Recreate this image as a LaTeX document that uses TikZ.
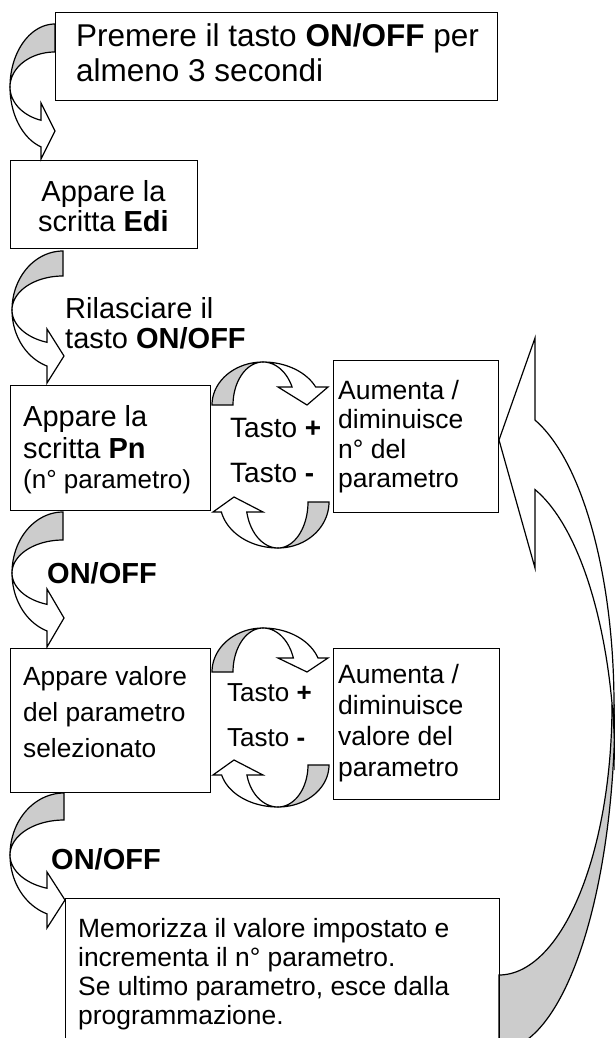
\documentclass[tikz,border=0pt]{standalone}
\usepackage{fontspec}
\setmainfont{Liberation Sans}
\definecolor{shade}{RGB}{204,204,204}
\newcommand\fs[2]{\fontsize{#1}{#2}\selectfont}
% curved arrow on the left side (bends left, points right)
% #1 cx #2 cy #3 rx #4 r outer #5 r inner #6 head back x #7 tip x #8 head centre y #9 head half height
\newcommand\leftbend[9]{%
  \pgfmathsetmacro\lbth{acos((#6-#1)/#3)}%
  \draw[blk,fill=shade] plot[domain=270:180,samples=40] ({#1+#3*cos(\x)},{#2+#4*sin(\x)})
     -- plot[domain=180:270,samples=40] ({#1+#3*cos(\x)},{#2+#5*sin(\x)}) -- cycle;
  \draw[blk,fill=white] plot[domain=180:\lbth,samples=40] ({#1+#3*cos(\x)},{#2+#5*sin(\x)})
     -- (#6,#8-#9) -- (#7,#8) -- (#6,#8+#9)
     -- plot[domain=\lbth:180,samples=40] ({#1+#3*cos(\x)},{#2+#4*sin(\x)}) -- cycle;
}
% curved down arrow in local coordinates; #1 ry, #2 head base y, #3 tip y
\newcommand\roundarrow[3]{%
  \pgfmathsetmacro\rath{360+asin((#2)/(#1))}%
  \draw[blk,fill=shade] plot[domain=180:270,samples=30] ({51*cos(\x)},{#1*sin(\x)})
     -- plot[domain=270:180,samples=30] ({30*cos(\x)},{#1*sin(\x)}) -- cycle;
  \draw[blk,fill=white] plot[domain=270:\rath,samples=30] ({32*cos(\x)},{#1*sin(\x)})
     -- (15,#2) -- (44,#3) -- (65,#2)
     -- plot[domain=\rath:270,samples=30] ({58*cos(\x)},{#1*sin(\x)}) -- cycle;
}
\begin{document}
\begin{tikzpicture}[x=1pt,y=-1pt,
  blk/.style={draw=black,line width=1.2pt,line join=miter},
  box/.style={draw=black,line width=1.4pt,rectangle,inner sep=0pt,anchor=north west},
  lbl/.style={inner sep=0pt,align=left,anchor=north west}]
\useasboundingbox (0,0) rectangle (615,1038);
\clip (0,0) rectangle (615,1038);

% left bending arrows
\leftbend{55}{87}{45}{63}{35}{41}{55}{131}{28}
\leftbend{63}{310}{51}{59}{34}{47}{64}{356}{27}
\leftbend{63}{573}{51}{61}{33}{47}{64}{618}{29}
\leftbend{64}{855}{54}{62}{35}{47}{65}{900}{28}

% round arrows between boxes
\begin{scope}[shift={(263,405)}]\roundarrow{43}{-18}{0}\end{scope}
\begin{scope}[shift={(278,502)},rotate=180]\roundarrow{46}{-10}{5}\end{scope}
\begin{scope}[shift={(263,672)}]\roundarrow{44}{-14}{0}\end{scope}
\begin{scope}[shift={(278,765)},rotate=180]\roundarrow{42}{-10}{5}\end{scope}

% big return arrow on the right
\draw[blk,fill=shade] plot[domain=0:90,samples=60] ({499+113*cos(\x)},{705+270*sin(\x)})
   -- (499,1050) -- plot[domain=90:0,samples=60] ({499+116*cos(\x)},{705+345*sin(\x)}) -- cycle;
\pgfmathsetmacro\thu{360-acos(36/115)}
\pgfmathsetmacro\thl{360-acos(36/116)}
\draw[blk,fill=white] (499,440) -- (535,338)
   -- plot[domain=\thu:360,samples=60] ({499+115*cos(\x)},{705+300*sin(\x)})
   -- plot[domain=360:\thl,samples=60] ({499+116*cos(\x)},{770+295*sin(\x)})
   -- (535,568) -- cycle;

% boxes
\node[box,minimum width=442pt,minimum height=88pt] (b1) at (55,12) {};
\node[box,minimum width=187pt,minimum height=88pt] (b2) at (10,160) {};
\node[box,minimum width=200pt,minimum height=125pt] (b3) at (10,385) {};
\node[box,minimum width=165pt,minimum height=152pt] (b4) at (333,360) {};
\node[box,minimum width=200pt,minimum height=144pt] (b5) at (10,648) {};
\node[box,minimum width=166pt,minimum height=151pt] (b6) at (333,648) {};
\node[box,minimum width=434pt,minimum height=150pt] (b7) at (65,898) {};

% texts
\node[lbl,font=\fs{31.5}{35}] (t1) at (76,23) {Premere il tasto \textbf{ON/OFF} per\\almeno 3 secondi};
\node[lbl,anchor=north,align=center,font=\fs{29}{30.5}] (t2) at (103.5,180) {Appare la\\scritta \textbf{Edi}};
\node[lbl,font=\fs{29}{32}] (t3) at (23,405) {Appare la\\scritta \textbf{Pn}};
\node[lbl,anchor=base west,font=\fs{26}{30}] (t3b) at (23,488) {(n° parametro)};
\node[lbl,font=\fs{26.5}{29.5}] (t4) at (338,380) {Aumenta /\\diminuisce\\n° del\\parametro};
\node[lbl,font=\fs{26.3}{36}] (t5) at (23,666) {Appare valore\\del parametro\\selezionato};
\node[lbl,font=\fs{26.5}{31}] (t6) at (338,664) {Aumenta /\\diminuisce\\valore del\\parametro};
\node[lbl,font=\fs{26.4}{29}] (t7) at (78,918) {Memorizza il valore impostato e\\incrementa il n° parametro.\\Se ultimo parametro, esce dalla\\programmazione.};
\node[lbl,font=\fs{28}{45}] (k1) at (230,418) {Tasto \textbf{+}\\Tasto \textbf{-}};
\node[lbl,font=\fs{26}{45}] (k2) at (227,683) {Tasto \textbf{+}\\Tasto \textbf{-}};
\node[lbl,font=\fs{29}{30}] (r1) at (65,297) {Rilasciare il\\tasto \textbf{ON/OFF}};
\node[lbl,anchor=base west,font=\fs{29}{30}\bfseries] (o1) at (47,583) {ON/OFF};
\node[lbl,anchor=base west,font=\fs{29}{30}\bfseries] (o2) at (51,869) {ON/OFF};
\end{tikzpicture}
\end{document}
